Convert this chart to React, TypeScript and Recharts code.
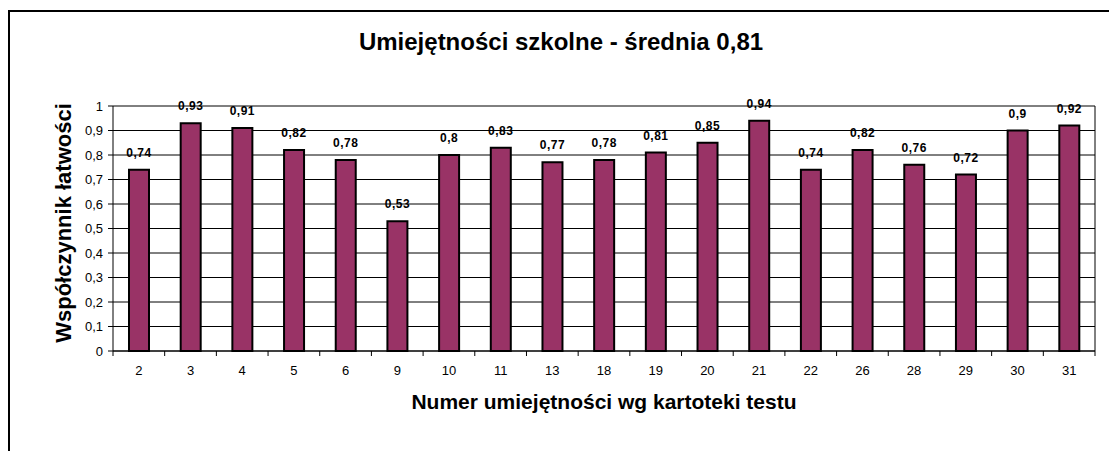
import { BarChart, Bar, XAxis, YAxis, CartesianGrid, LabelList } from "recharts";

const categories = ["2", "3", "4", "5", "6", "9", "10", "11", "13", "18", "19", "20", "21", "22", "26", "28", "29", "30", "31"];
const values = [0.74, 0.93, 0.91, 0.82, 0.78, 0.53, 0.8, 0.83, 0.77, 0.78, 0.81, 0.85, 0.94, 0.74, 0.82, 0.76, 0.72, 0.9, 0.92];
const yTicks = [0, 0.1, 0.2, 0.3, 0.4, 0.5, 0.6, 0.7, 0.8, 0.9, 1];

const data = categories.map((c, i) => ({ name: c, value: values[i] }));

const W = 1109;
const H = 451;
const margin = { top: 106, right: 14, bottom: 70, left: 63 };
const Y_AXIS_W = 50;
const X_AXIS_H = 30;
const PLOT_W = W - margin.left - Y_AXIS_W - margin.right;

const font = "'Liberation Sans', Arial, sans-serif";
const fmt = (v: number) => String(v).replace(".", ",");

const XTick = (props: any) => {
  const { x, y, payload, index } = props;
  const cw = PLOT_W / categories.length;
  return (
    <g>
      <line x1={x - cw / 2} y1={y} x2={x - cw / 2} y2={y + 5} stroke="#000" />
      {index === categories.length - 1 && (
        <line x1={x + cw / 2} y1={y} x2={x + cw / 2} y2={y + 5} stroke="#000" />
      )}
      <text x={x} y={y + 24} textAnchor="middle" fontSize={13} fill="#000" fontFamily={font}>
        {payload.value}
      </text>
    </g>
  );
};

export default function App() {
  return (
    <div style={{ position: "fixed", left: 0, top: 0, width: W, height: H, overflow: "hidden", background: "#fff", fontFamily: font }}>
      <div style={{ position: "absolute", left: 8, top: 10, width: 1140, height: 480, border: "2px solid #000" }} />
      <div style={{ position: "absolute", left: 0, top: 28, width: 1122, lineHeight: "28px", textAlign: "center", fontSize: 24, fontWeight: "bold" }}>
        Umiejętności szkolne - średnia 0,81
      </div>
      <div style={{ position: "absolute", left: 104, top: 389, width: 1000, lineHeight: "26px", textAlign: "center", fontSize: 21, fontWeight: "bold" }}>
        Numer umiejętności wg kartoteki testu
      </div>
      <div style={{ position: "absolute", left: 64, top: 223, transform: "translate(-50%, -50%) rotate(-90deg)", whiteSpace: "nowrap", fontSize: 22, fontWeight: "bold", lineHeight: "26px" }}>
        Współczynnik łatwości
      </div>
      <div style={{ position: "absolute", left: 0, top: 0 }}>
        <BarChart width={W} height={H} data={data} margin={margin} barSize={20}>
          <CartesianGrid
            stroke="#000"
            horizontal={true}
            vertical={true}
            verticalCoordinatesGenerator={({ offset }: any) => [offset.left + offset.width]}
          />
          <XAxis
            dataKey="name"
            height={X_AXIS_H}
            interval={0}
            tickSize={0}
            tickMargin={0}
            tickLine={false}
            axisLine={{ stroke: "#000" }}
            tick={<XTick />}
          />
          <YAxis
            width={Y_AXIS_W}
            domain={[0, 1]}
            ticks={yTicks}
            interval={0}
            tickSize={5}
            tickMargin={5}
            tickFormatter={fmt}
            tickLine={{ stroke: "#000" }}
            axisLine={{ stroke: "#000" }}
            tick={{ fill: "#000", fontSize: 13, fontFamily: font }}
          />
          <Bar dataKey="value" fill="#993366" stroke="#000" strokeWidth={2} isAnimationActive={false}>
            <LabelList
              dataKey="value"
              position="top"
              offset={13}
              formatter={(v: any) => fmt(v)}
              style={{ fontSize: 12, fontWeight: "bold", fill: "#000", fontFamily: font, letterSpacing: 0.5 }}
            />
          </Bar>
        </BarChart>
      </div>
    </div>
  );
}
